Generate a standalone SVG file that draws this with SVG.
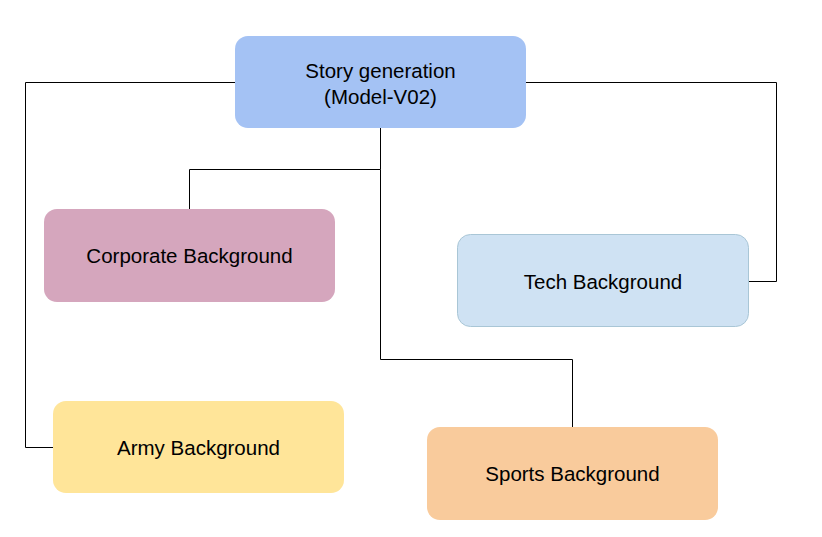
<svg xmlns="http://www.w3.org/2000/svg" width="822" height="537" viewBox="0 0 822 537">
<style>
.box{stroke:none}
.lbl{font-family:"Liberation Sans",Arial,sans-serif;font-size:20.5px;fill:#000;text-anchor:middle}
.conn{fill:none;stroke:#000;stroke-width:1}
</style>
<rect width="822" height="537" fill="#fff"/>
<g id="connectors">
<polyline class="conn" points="235,82.5 25.5,82.5 25.5,447.5 53,447.5"/>
<polyline class="conn" points="526,82.5 776.5,82.5 776.5,281.5 749,281.5"/>
<polyline class="conn" points="380.5,128 380.5,169.5 189.5,169.5 189.5,209"/>
<polyline class="conn" points="380.5,169.5 380.5,359.5 572.5,359.5 572.5,427"/>
</g>
<g id="story">
<rect class="box" x="235" y="36" width="291" height="92" rx="13" fill="#a4c2f4"/>
<text class="lbl" x="380.5" y="78">Story generation</text>
<text class="lbl" x="380.5" y="104">(Model-V02)</text>
</g>
<g id="corporate">
<rect class="box" x="44" y="209" width="291" height="93" rx="13" fill="#d5a6bd"/>
<text class="lbl" x="189.5" y="263">Corporate Background</text>
</g>
<g id="tech">
<rect x="457.5" y="234.5" width="291" height="92" rx="13" fill="#cfe2f3" stroke="#a9c6d6" stroke-width="1"/>
<text class="lbl" x="603" y="289">Tech Background</text>
</g>
<g id="army">
<rect class="box" x="53" y="401" width="291" height="92" rx="13" fill="#ffe599"/>
<text class="lbl" x="198.5" y="455">Army Background</text>
</g>
<g id="sports">
<rect class="box" x="427" y="427" width="291" height="93" rx="13" fill="#f9cb9c"/>
<text class="lbl" x="572.5" y="481">Sports Background</text>
</g>
</svg>
